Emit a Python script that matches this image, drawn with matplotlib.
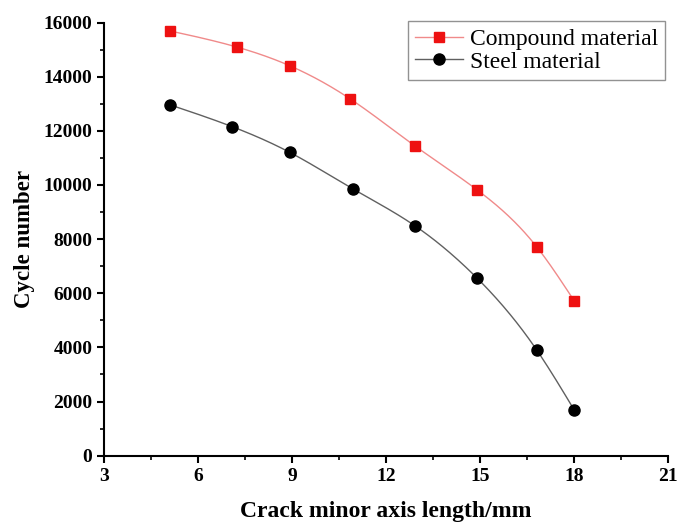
import numpy as np
import matplotlib.pyplot as plt
from matplotlib.ticker import MultipleLocator

# crack minor axis length (mm) and fatigue cycle numbers
x_compound = [5.1, 7.25, 8.93, 10.85, 12.92, 14.9, 16.8, 18.0]
y_compound = [15690, 15090, 14400, 13180, 11440, 9820, 7720, 5720]
x_steel = [5.1, 7.07, 8.93, 10.93, 12.92, 14.9, 16.8, 18.0]
y_steel = [12960, 12160, 11200, 9860, 8490, 6560, 3910, 1690]

x_ticks = [3, 6, 9, 12, 15, 18, 21]
y_ticks = [0, 2000, 4000, 6000, 8000, 10000, 12000, 14000, 16000]


def smooth(x, y, n=400):
    # natural cubic spline through the points (connector line only)
    x = np.asarray(x, float)
    y = np.asarray(y, float)
    m = len(x)
    h = np.diff(x)
    A = np.zeros((m, m))
    b = np.zeros(m)
    A[0, 0] = A[-1, -1] = 1
    for i in range(1, m - 1):
        A[i, i - 1] = h[i - 1]
        A[i, i] = 2 * (h[i - 1] + h[i])
        A[i, i + 1] = h[i]
        b[i] = 3 * ((y[i + 1] - y[i]) / h[i] - (y[i] - y[i - 1]) / h[i - 1])
    c = np.linalg.solve(A, b)
    xs = np.linspace(x[0], x[-1], n)
    k = np.clip(np.searchsorted(x, xs) - 1, 0, m - 2)
    dx = xs - x[k]
    bb = (y[k + 1] - y[k]) / h[k] - h[k] * (2 * c[k] + c[k + 1]) / 3
    dd = (c[k + 1] - c[k]) / (3 * h[k])
    ys = y[k] + bb * dx + c[k] * dx ** 2 + dd * dx ** 3
    return xs, ys


plt.rcParams['font.family'] = ['Liberation Serif', 'DejaVu Serif']

fig = plt.figure(figsize=(6.77, 5.22), dpi=100)
ax = fig.add_axes([0.154, 0.127, 0.833, 0.8298])

cx, cy = smooth(x_compound, y_compound)
ax.plot(cx, cy, color='#f08a8a', linewidth=1.0)
sx, sy = smooth(x_steel, y_steel)
ax.plot(sx, sy, color='#606060', linewidth=1.0)

ax.plot(x_compound, y_compound, linestyle='none', marker='s', markersize=7.5,
        color='#ee1111')
ax.plot(x_steel, y_steel, linestyle='none', marker='o', markersize=8,
        color='black')

# legend handles: line with marker in the middle
ax.plot([], [], color='#f08a8a', lw=1.0, marker='s', ms=7.5, mfc='#ee1111',
        mec='#ee1111', label='Compound material')
ax.plot([], [], color='#606060', lw=1.0, marker='o', ms=8, mfc='black',
        mec='black', label='Steel material')

ax.set_xlim(3, 21)
ax.set_ylim(0, 16000)
ax.set_xticks(x_ticks)
ax.set_yticks(y_ticks)
ax.xaxis.set_minor_locator(MultipleLocator(1.5))
ax.yaxis.set_minor_locator(MultipleLocator(1000))

ax.spines['top'].set_visible(False)
ax.spines['right'].set_visible(False)
for s in ('left', 'bottom'):
    ax.spines[s].set_linewidth(1.5)
ax.tick_params(which='major', direction='out', length=5, width=1.5,
               labelsize=14)
ax.tick_params(which='minor', direction='out', length=3, width=1.2)
for lab in ax.get_xticklabels() + ax.get_yticklabels():
    lab.set_fontweight('bold')

ax.set_xlabel('Crack minor axis length/mm', fontsize=17, fontweight='bold',
              labelpad=12)
ax.set_ylabel('Cycle number', fontsize=16.5, fontweight='bold', labelpad=6)

leg = ax.legend(loc='upper right', bbox_to_anchor=(0.9945, 1.003), fontsize=17,
                frameon=True, fancybox=False, edgecolor='#777777',
                handlelength=2.0, handletextpad=0.3, borderpad=0.3,
                labelspacing=0.05, borderaxespad=0)
leg.get_frame().set_linewidth(1.0)

fig.savefig('out.png', dpi=100)
